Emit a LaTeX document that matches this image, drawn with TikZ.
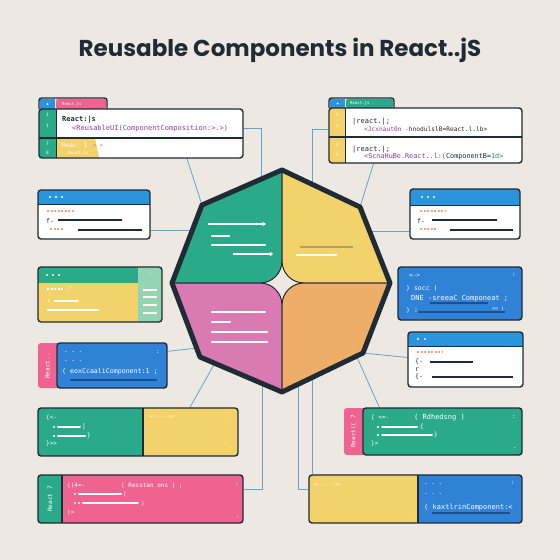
\documentclass[tikz,border=0pt]{standalone}
\usepackage{fontspec}
\setmonofont{DejaVu Sans Mono}
\newfontfamily\headfont{Poppins}
\usetikzlibrary{calc, fit, backgrounds, arrows.meta}

\definecolor{paper}{HTML}{EDE8E2}
\definecolor{ink}{HTML}{1F2C36}
\definecolor{leaf}{HTML}{2BAA89}
\definecolor{sun}{HTML}{F3D26C}
\definecolor{rose}{HTML}{EE6390}
\definecolor{orchid}{HTML}{D97AB2}
\definecolor{peach}{HTML}{EFAE68}
\definecolor{sky}{HTML}{2F82D5}
\definecolor{skyhead}{HTML}{2A95DB}
\definecolor{mint}{HTML}{93D5B0}
\definecolor{wire}{HTML}{5EA6CF}
\definecolor{olive}{HTML}{A9A46C}
\definecolor{salmon}{HTML}{F0A58A}
\definecolor{plum}{HTML}{8A3FA6}
\definecolor{navy}{HTML}{1D4E8F}

\tikzset{
  frame/.style={draw=ink, line width=1.4pt, rounded corners=3pt, inner sep=0pt},
  wire/.style={draw=wire, line width=0.8pt},
  code/.style={font=\ttfamily\fontsize{#1}{#1}\selectfont, text=white, inner sep=0pt, anchor=west},
  code/.default=5.5,
  bar/.style={white, line width=1.8pt, line cap=round},
  rule/.style={ink, line width=1.5pt},
  dashes/.style={line width=1.8pt, dash pattern=on 2.2pt off 1.3pt},
}

\begin{document}
\begin{tikzpicture}[x=1pt, y=-1pt]
\useasboundingbox (0,0) rectangle (560,560);

\node[font=\headfont\bfseries\fontsize{23}{26}\selectfont, text=ink] (title) at (280,50) {Reusable Components in React..jS};

% octagon
\coordinate (o1) at (282,170);
\coordinate (o2) at (360,207);
\coordinate (o3) at (390,283);
\coordinate (o4) at (363,353);
\coordinate (o5) at (282,392);
\coordinate (o6) at (200,357);
\coordinate (o7) at (172,283);
\coordinate (o8) at (202,205);

\begin{scope}
\clip (o1) -- (o2) -- (o3) -- (o4) -- (o5) -- (o6) -- (o7) -- (o8) -- cycle;
\filldraw[fill=leaf, draw=ink, line width=1pt, rounded corners=22pt] (120,140) rectangle (282,283);
\filldraw[fill=sun, draw=ink, line width=1pt, rounded corners=22pt] (282,140) rectangle (420,283);
\filldraw[fill=orchid, draw=ink, line width=1pt, rounded corners=22pt] (120,283) rectangle (282,420);
\filldraw[fill=peach, draw=ink, line width=1pt, rounded corners=22pt] (282,283) rectangle (420,420);
\end{scope}
\draw[ink, line width=5pt, line join=round] (o1) -- (o2) -- (o3) -- (o4) -- (o5) -- (o6) -- (o7) -- (o8) -- cycle;

\draw[bar, line width=2.2pt, line cap=butt, -{Triangle[length=3pt, width=4.5pt]}] (208,224) -- (266,224);
\draw[bar, line width=2.2pt] (212,236) -- (229,236);
\draw[bar, line width=2.2pt] (212,245) -- (265,245);
\draw[bar, line width=2.2pt, line cap=butt, -{Triangle[length=3pt, width=4.5pt]}] (233,254) -- (273,254);
\draw[olive, line width=2.6pt] (300,247) -- (353,247);
\draw[bar, line width=2.2pt] (297,255) -- (336,255);
\draw[bar, line width=2.2pt] (212,312) -- (265,312);
\draw[bar, line width=2.2pt] (212,322) -- (230,322);
\draw[bar, line width=2.2pt] (212,332) -- (267,332);
\draw[bar, line width=2.2pt] (212,342) -- (267,342);

% left top card
\fill[skyhead] (40,99) rectangle (55,109);
\fill[white] (47.5,104) circle (1pt);
\fill[rose, rounded corners=2pt] (56,109) -- (56,99) -- (106,99) -- (106,109) -- cycle;
\draw[ink, line width=1.4pt, rounded corners=2.5pt] (39,109) -- (39,98) -- (107,98) -- (107,109);
\node[code=4] (lt0) at (62,104) {React.js};
\begin{scope}
\clip[rounded corners=3pt] (39,109) rectangle (243,158);
\fill[white] (39,109) rectangle (243,158);
\fill[leaf] (39,109) rectangle (56,158);
\fill[sun] (56,138) -- (95,138) -- (99,158) -- (56,158) -- cycle;
\end{scope}
\draw[ink, line width=1.2pt] (39,138) -- (243,138);
\draw[ink, line width=1pt] (56,109) -- (56,158);
\node[frame, fit={(39,109) (243,158)}] (lt) {};
\node[code=4.5] (ltn1) at (46,115) {1};
\node[code=4.5] (ltn2) at (46,126) {1};
\node[code=4.5] (ltn3) at (46,144) {7};
\node[code=4.5] (ltn4) at (46,153) {8};
\node[code=7, text=ink, font=\ttfamily\bfseries\fontsize{7}{7}\selectfont] (lt1) at (62,120) {React:|s};
\node[code=7, text=plum] (lt2) at (72,129) {<ReusableUI(\textcolor{leaf!80!black}{C}omponentComposition:>.>)};
\node[code=6] (lt3) at (62,145) {Reac: 1};
\node[code=4.2] (lt4) at (68,153) {React.js};
\node[code=5.5, text=rose] (lt5) at (93,146) {> >};

% right top card
\fill[skyhead] (330,99) rectangle (345,108);
\fill[white] (337.5,103.5) circle (1pt);
\fill[leaf, rounded corners=2pt] (346,108) -- (346,99) -- (393,99) -- (393,108) -- cycle;
\draw[ink, line width=1.4pt, rounded corners=2.5pt] (329,108) -- (329,98) -- (394,98) -- (394,108);
\node[code=4] (rt0) at (350,103.5) {React.js};
\begin{scope}
\clip[rounded corners=3pt] (329,108) rectangle (522,163);
\fill[white] (329,108) rectangle (522,163);
\fill[sun] (329,108) rectangle (345,163);
\end{scope}
\draw[ink, line width=1.2pt] (329,137) -- (522,137);
\draw[ink, line width=1pt] (345,108) -- (345,163);
\node[frame, fit={(329,108) (522,163)}] (rt) {};
\node[code=4.5] (rtn1) at (336,115) {1};
\node[code=4.5] (rtn2) at (336,126) {1};
\node[code=4.5] (rtn3) at (336,145) {2};
\node[code=4.5] (rtn4) at (336,155) {2};
\node[code=7, text=ink] (rt1) at (352,122) {|react.|;};
\node[code=6.2, text=plum] (rt2) at (364,129) {<Jcxnaut0n -\textcolor{ink}{hnodulslB=React.l.lb>}};
\node[code=7, text=ink] (rt3) at (352,150) {|react.|;};
\node[code=6.8, text=plum] (rt4) at (364,157) {<ScnaHuBe.React..l:(\textcolor{ink}{ComponentB=}\textcolor{leaf!80!black}{1d>}};

% left card 2
\begin{scope}
\clip[rounded corners=3pt] (38,190) rectangle (150,239);
\fill[white] (38,190) rectangle (150,239);
\fill[skyhead] (38,190) rectangle (150,204);
\end{scope}
\draw[ink, line width=1pt] (38,204) -- (150,204);
\node[frame, fit={(38,190) (150,239)}] (l2) {};
\foreach \x in {50,56,62} \fill[white] (\x,197) circle (1.2pt);
\draw[salmon, dashes] (47,211) -- (75,211);
\node[code=6.5, text=ink] (l2a) at (46,221) {f-};
\draw[rule] (58,220) -- (122,220);
\draw[salmon, dashes] (50,229) -- (63,229);
\draw[rule] (78,230) -- (142,230);

% right card 2
\begin{scope}
\clip[rounded corners=3pt] (410,189) rectangle (520,239);
\fill[white] (410,189) rectangle (520,239);
\fill[skyhead] (410,189) rectangle (520,205);
\end{scope}
\draw[ink, line width=1pt] (410,205) -- (520,205);
\node[frame, fit={(410,189) (520,239)}] (r2) {};
\foreach \x in {422,428,434} \fill[white] (\x,197) circle (1.2pt);
\draw[salmon, dashes] (420,211) -- (445,211);
\node[code=6.5, text=ink] (r2a) at (417,221) {f-};
\draw[rule] (432,220) -- (497,220);
\draw[salmon, dashes] (420,229) -- (437,229);
\draw[rule] (450,230) -- (513,230);

% left card 3
\begin{scope}
\clip[rounded corners=3pt] (38,267) rectangle (162,322);
\fill[sun] (38,267) rectangle (162,322);
\fill[leaf] (38,267) rectangle (138,283);
\fill[mint] (138,267) rectangle (162,322);
\end{scope}
\node[frame, fit={(38,267) (162,322)}] (l3) {};
\foreach \x in {47,53,59} \fill[white] (\x,275) circle (1.2pt);
\node[code=5.5] (l3a) at (148.5,274) {:};
\foreach \y in {290,297,305,313} \draw[white, line width=1.5pt] (143,\y) -- (157,\y);
\draw[white, line width=1.4pt, dash pattern=on 2pt off 1.5pt] (47,289) -- (64,289);
\node[code=5] (l3b) at (65,289) {,?};
\node[code=5.5] (l3c) at (47,301) {⊥};
\draw[white, line width=1.6pt, -{Triangle[length=2.5pt, width=3.5pt]}] (54,301) -- (79,301);
\draw[bar, line width=2.2pt] (48,310) -- (98,310);

% right card 3
\node[frame, fill=sky, fit={(398,267) (522,320)}] (r3) {};
\node[code=6] (r3a) at (409,276) {<->};
\node[code=6] (r3b) at (512,275) {:};
\node[code=6.5] (r3c) at (406,288) {) socc  (};
\node[code=7] (r3d) at (411,299) {DNE -sreeaC Componeat ;};
\draw[navy, line width=1.2pt] (430,303) -- (488,303);
\node[code=6.5] (r3e) at (406,310) {) :};
\draw[navy, line width=1.1pt] (418,312) -- (505,312);
\node[code=5] (r3f) at (492,309) {== (};

% left card 5
\fill[rose, rounded corners=3pt] (38,343) rectangle (60,388);
\node[frame, fill=sky, fit={(57,343) (167,388)}] (l5) {};
\node[code=6, rotate=90, anchor=center] (l5t) at (47.5,366) {React..};
\node[code=6] (l5a) at (64,353) {- - -};
\node[code=6] (l5b) at (64,362) {- - -};
\node[code=6] (l5c) at (156,352) {:};
\node[code=6.6] (l5d) at (62,372) {( eoxCcaaliComponent:1 ;};
\draw[navy, line width=1.2pt] (70,380) -- (157,380);

% right card 6
\begin{scope}
\clip[rounded corners=3pt] (408,332) rectangle (523,387);
\fill[white] (408,332) rectangle (523,387);
\fill[skyhead] (408,332) rectangle (523,346);
\end{scope}
\draw[ink, line width=1pt] (408,346) -- (523,346);
\node[frame, fit={(408,332) (523,387)}] (r6) {};
\foreach \x in {418,425} \fill[white] (\x,339) circle (1.2pt);
\draw[salmon, dashes] (417,352) -- (442,352);
\node[code=6.5, text=ink] (r6a) at (415,362) {\{-};
\draw[rule] (430,362) -- (473,362);
\node[code=6.5, text=ink] (r6b) at (415,370) {r};
\node[code=6.5, text=ink] (r6c) at (415,377) {\{-};
\draw[rule] (432,377) -- (513,377);

% left card 6
\begin{scope}
\clip[rounded corners=3pt] (38,408) rectangle (238,456);
\fill[leaf] (38,408) rectangle (143,456);
\fill[sun] (143,408) rectangle (238,456);
\end{scope}
\draw[ink, line width=1.2pt] (143,408) -- (143,456);
\node[frame, fit={(38,408) (238,456)}] (l6) {};
\node[code=6] (l6a) at (46,418) {\{<-};
\fill[white] (54,427) circle (1.1pt);
\draw[bar, line width=2pt] (58,427) -- (80,427);
\node[code=6] (l6b) at (82,427) {]};
\fill[white] (54,436) circle (1.1pt);
\draw[bar, line width=2pt] (58,436) -- (85,436);
\node[code=6] (l6c) at (87,436) {\}};
\node[code=6] (l6d) at (46,444) {\}>>};
\node[code=5] (l6e) at (150,417) {<---- =>};
\node[code=6] (l6f) at (228,417) {:};
\node[code=6] (l6g) at (229,448) {.};

% right card 7
\fill[rose, rounded corners=3pt] (344,408) rectangle (366,455);
\node[frame, fill=leaf, fit={(363,408) (522,455)}] (r7) {};
\node[code=6, rotate=90, anchor=center] (r7t) at (353.5,431.5) {React(( 7};
\node[code=6] (r7a) at (371,418) {\{ <=-};
\node[code=7] (r7b) at (414,418) {( Rdhedsng )};
\node[code=6] (r7c) at (512,417) {:};
\fill[white] (378,427) circle (1.1pt);
\draw[bar, line width=2pt] (382,427) -- (417,427);
\node[code=6] (r7d) at (420,427) {\{};
\fill[white] (378,435) circle (1.1pt);
\draw[bar, line width=2pt] (382,435) -- (432,435);
\node[code=6] (r7e) at (434,435) {\}};
\node[code=6] (r7f) at (371,444) {\}>};
\node[code=6] (r7g) at (513,448) {.};

% left card 7
\begin{scope}
\clip[rounded corners=3pt] (38,475) rectangle (243,523);
\fill[rose] (38,475) rectangle (243,523);
\fill[leaf] (38,475) rectangle (62,523);
\end{scope}
\draw[ink, line width=1.2pt] (62,475) -- (62,523);
\node[frame, fit={(38,475) (243,523)}] (l7) {};
\node[code=6, rotate=90, anchor=center] (l7t) at (50,499) {React 7};
\node[code=6] (l7a) at (67,486) {((4=-};
\node[code=6] (l7b) at (121,486) {( Resstan ons ) ;};
\fill[white] (75,494) circle (1.1pt);
\draw[bar, line width=2pt] (79,494) -- (121,494);
\node[code=6] (l7c) at (123,495) {(};
\fill[white] (75,503) circle (1.1pt);
\fill[white] (79,503) circle (1.1pt);
\draw[bar, line width=2pt] (83,503) -- (138,503);
\node[code=6] (l7d) at (141,504) {)};
\node[code=6] (l7e) at (67,513) {)>};
\node[code=6] (l7f) at (235,485) {:};
\node[code=6] (l7g) at (236,517) {.};

% right card 8
\begin{scope}
\clip[rounded corners=3pt] (309,475) rectangle (522,523);
\fill[sun] (309,475) rectangle (418,523);
\fill[sky] (418,475) rectangle (522,523);
\end{scope}
\draw[ink, line width=1.2pt] (418,475) -- (418,523);
\node[frame, fit={(309,475) (522,523)}] (r8) {};
\node[code=5] (r8a) at (314,485) {<------=>};
\node[code=6] (r8b) at (411,517) {.};
\node[code=6] (r8c) at (424,485) {- - -};
\node[code=6] (r8d) at (424,495) {- - -};
\node[code=6] (r8e) at (511,483) {:};
\node[code=7] (r8f) at (424,508) {( kaxtlrinComponent:<};
\draw[navy, line width=1.2pt] (432,513) -- (510,513);

% connectors
\coordinate (a1) at ($(o8)!0.74!(o1)$);
\coordinate (a2) at ($(o1)!0.385!(o2)$);
\coordinate (a5) at ($(o7)!0.68!(o8)$);
\coordinate (a6) at ($(o2)!0.316!(o3)$);
\coordinate (a7) at ($(o6)!0.12!(o7)$);
\coordinate (a8) at ($(o6)!0.18!(o5)$);
\coordinate (a9) at ($(o6)!0.756!(o5)$);
\coordinate (a10) at ($(o5)!0.37!(o4)$);
\coordinate (a11) at ($(o5)!0.2!(o4)$);
\coordinate (a12) at ($(o4)!0.08!(o5)$);

\begin{pgfonlayer}{background}
\fill[paper] (0,0) rectangle (560,560);
\draw[wire] (a1) |- ([yshift=5.5pt]lt.east);
\draw[wire] ([xshift=46pt]lt.south) -- (o8);
\draw[wire] (a2) |- ([yshift=6.5pt]rt.west);
\draw[wire] ([xshift=-52pt]rt.south) -- (o2);
\draw[wire] (a5 -| l2.east) -- (a5);
\draw[wire] (a6) -- (a6 -| r2.west);
\draw[wire] ([yshift=-9pt]l5.north east) -- (a7);
\draw[wire] ([xshift=52pt]l6.north) -- (a8);
\draw[wire] (a9) |- ([yshift=10pt]l7.east);
\draw[wire] (o4) -- ([yshift=2pt]r6.west);
\draw[wire] (a12) -- ([xshift=17pt]r7.north west);
\draw[wire] (a10) -- (a10 |- r8.north);
\draw[wire] (a11) |- ([yshift=10pt]r8.west);
\end{pgfonlayer}
\end{tikzpicture}
\end{document}
